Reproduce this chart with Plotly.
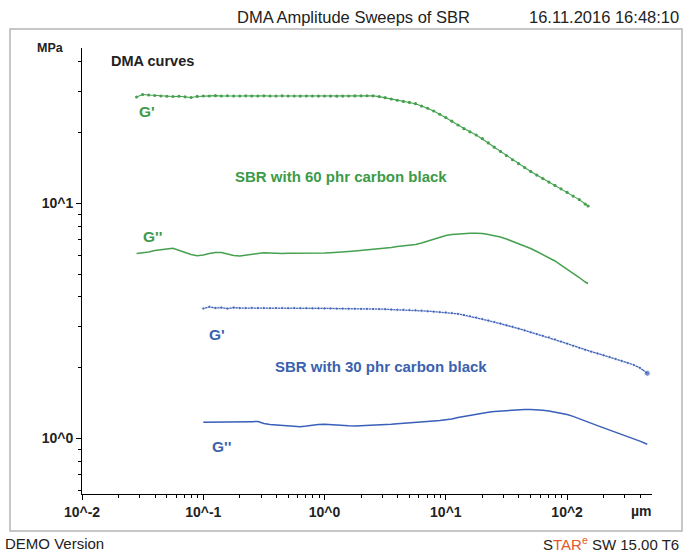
import plotly.graph_objects as go

# ---------------- data ----------------
green_strain = [0.0282, 0.0316, 0.0355, 0.0398, 0.0447, 0.0501, 0.0562, 0.0631, 0.0708, 0.0794,
                0.0891, 0.100, 0.112, 0.126, 0.141, 0.158, 0.178, 0.200, 0.224, 0.251,
                0.282, 0.316, 0.355, 0.398, 0.447, 0.501, 0.562, 0.631, 0.708, 0.794,
                0.891, 1.00, 1.12, 1.26, 1.41, 1.58, 1.78, 2.00, 2.24, 2.51,
                2.82, 3.16, 3.55, 3.98, 4.47, 5.01, 5.62, 6.31, 7.08, 7.94,
                8.91, 10.0, 11.2, 12.6, 14.1, 15.8, 17.8, 20.0, 22.4, 25.1,
                28.2, 31.6, 35.5, 39.8, 44.7, 50.1, 56.2, 63.1, 70.8, 79.4,
                89.1, 100, 112, 126, 141, 149]

green_Gp = [28.34, 29.05, 28.90, 28.76, 28.62, 28.55, 28.48, 28.55, 28.40, 28.20,
            28.50, 28.62, 28.62, 28.72, 28.62, 28.70, 28.62, 28.62, 28.68, 28.62,
            28.62, 28.66, 28.62, 28.62, 28.66, 28.62, 28.62, 28.60, 28.62, 28.62,
            28.60, 28.62, 28.60, 28.58, 28.60, 28.62, 28.64, 28.66, 28.70, 28.68,
            28.45, 28.15, 27.80, 27.45, 27.15, 26.88, 26.54, 25.94, 25.39, 24.71,
            23.94, 23.18, 22.36, 21.54, 20.79, 20.15, 19.53, 18.85, 18.07, 17.33,
            16.63, 15.97, 15.33, 14.75, 14.20, 13.67, 13.19, 12.75, 12.32, 11.92,
            11.53, 11.13, 10.74, 10.37, 9.93, 9.74]

green_Gpp = [6.115, 6.145, 6.206, 6.297, 6.360, 6.391, 6.435, 6.297, 6.175, 6.055,
             5.984, 6.026, 6.115, 6.175, 6.175, 6.085, 5.996, 5.967, 6.026, 6.085,
             6.145, 6.164, 6.145, 6.115, 6.115, 6.127, 6.127, 6.115, 6.115, 6.127,
             6.127, 6.145, 6.164, 6.175, 6.206, 6.236, 6.266, 6.297, 6.328, 6.360,
             6.391, 6.423, 6.486, 6.549, 6.582, 6.614, 6.679, 6.778, 6.912, 7.049,
             7.189, 7.295, 7.366, 7.403, 7.439, 7.453, 7.453, 7.439, 7.366, 7.295,
             7.189, 7.049, 6.891, 6.744, 6.582, 6.423, 6.236, 6.055, 5.881, 5.683,
             5.463, 5.253, 5.051, 4.834, 4.625, 4.557]

blue_strain = [0.100, 0.112, 0.126, 0.141, 0.158, 0.178, 0.200, 0.224, 0.251, 0.282,
               0.316, 0.355, 0.398, 0.447, 0.501, 0.562, 0.631, 0.708, 0.794, 0.891,
               1.00, 1.12, 1.26, 1.41, 1.58, 1.78, 2.00, 2.24, 2.51, 2.82,
               3.16, 3.55, 3.98, 4.47, 5.01, 5.62, 6.31, 7.08, 7.94, 8.91,
               10.0, 11.2, 12.6, 14.1, 15.8, 17.8, 20.0, 22.4, 25.1, 28.2,
               31.6, 35.5, 39.8, 44.7, 50.1, 56.2, 63.1, 70.8, 79.4, 89.1,
               100, 112, 126, 141, 158, 178, 200, 224, 251, 282,
               316, 355, 398, 458]

blue_Gp = [3.567, 3.627, 3.585, 3.602, 3.567, 3.602, 3.585, 3.585, 3.592, 3.585,
           3.585, 3.580, 3.585, 3.585, 3.580, 3.585, 3.580, 3.580, 3.575, 3.575,
           3.570, 3.570, 3.565, 3.565, 3.560, 3.560, 3.555, 3.555, 3.550, 3.547,
           3.543, 3.532, 3.525, 3.522, 3.516, 3.509, 3.491, 3.474, 3.457, 3.443,
           3.433, 3.413, 3.386, 3.346, 3.307, 3.266, 3.218, 3.171, 3.125, 3.080,
           3.029, 2.982, 2.930, 2.879, 2.828, 2.779, 2.731, 2.691, 2.636, 2.582,
           2.529, 2.477, 2.425, 2.380, 2.338, 2.297, 2.257, 2.218, 2.177, 2.135,
           2.094, 2.051, 1.995, 1.891]

blue_Gpp = [1.170, 1.170, 1.170, 1.170, 1.171, 1.171, 1.173, 1.173, 1.177, 1.179,
            1.156, 1.145, 1.139, 1.134, 1.128, 1.123, 1.121, 1.128, 1.139, 1.145,
            1.147, 1.141, 1.136, 1.132, 1.130, 1.128, 1.130, 1.134, 1.137, 1.139,
            1.144, 1.148, 1.153, 1.157, 1.162, 1.167, 1.175, 1.179, 1.185, 1.190,
            1.196, 1.208, 1.226, 1.240, 1.256, 1.269, 1.281, 1.291, 1.300, 1.307,
            1.313, 1.320, 1.325, 1.327, 1.327, 1.325, 1.317, 1.307, 1.294, 1.281,
            1.263, 1.240, 1.210, 1.185, 1.158, 1.132, 1.108, 1.085, 1.062, 1.039,
            1.017, 0.995, 0.973, 0.943]

x_tick_vals = [0.01, 0.1, 1, 10, 100]
x_tick_text = ["10^-2", "10^-1", "10^0", "10^1", "10^2"]
y_tick_vals = [1, 10]
y_tick_text = ["10^0", "10^1"]

# ---------------- style ----------------
GREEN_LINE = "#45a04f"
GREEN_TEXT = "#3c9a48"
BLUE_LINE = "#3a5fb8"
BLUE_TEXT = "#3a62ae"
FONT = "Liberation Sans, Arial, sans-serif"

fig = go.Figure()

fig.add_trace(go.Scatter(x=green_strain, y=green_Gp, mode="lines+markers",
                         line=dict(color=GREEN_LINE, width=1.1),
                         marker=dict(color=GREEN_LINE, size=3.2), hoverinfo="skip"))
fig.add_trace(go.Scatter(x=green_strain, y=green_Gpp, mode="lines",
                         line=dict(color=GREEN_LINE, width=1.5), hoverinfo="skip"))
blue_sizes = [3.4] * (len(blue_Gp) - 1) + [6]
fig.add_trace(go.Scatter(x=blue_strain, y=blue_Gp, mode="lines+markers",
                         line=dict(color=BLUE_LINE, width=1.3),
                         marker=dict(color=BLUE_LINE, size=blue_sizes), hoverinfo="skip"))
fig.add_trace(go.Scatter(x=blue_strain, y=blue_Gpp, mode="lines",
                         line=dict(color=BLUE_LINE, width=1.5), hoverinfo="skip"))

x_minor = [m * 10.0 ** e for e in range(-2, 2) for m in range(2, 10)] + [200, 300, 400]
y_minor = [0.6, 0.7, 0.8, 0.9] + [m for m in range(2, 10)] + [20, 30, 40]

L, R, T, B = 82, 32, 48, 58
W, H = 684, 552
pw, ph = W - L - R, H - T - B


def px(xp):
    return (xp - L) / pw


def py(yp):
    return (H - B - yp) / ph


tick_font = dict(family=FONT, size=14, color="#222", weight="bold")

fig.update_layout(
    width=W, height=H,
    margin=dict(l=L, r=R, t=T, b=B),
    paper_bgcolor="white", plot_bgcolor="rgba(0,0,0,0)",
    showlegend=False,
    font=dict(family=FONT, color="#222"),
    xaxis=dict(type="log", range=[-2, 2.7], showgrid=False, zeroline=False,
               showline=True, linecolor="black", linewidth=1,
               tickmode="array", tickvals=x_tick_vals, ticktext=x_tick_text,
               ticks="outside", ticklen=5, tickcolor="black", tickwidth=1,
               tickfont=tick_font,
               minor=dict(tickmode="array", tickvals=x_minor, ticks="outside",
                          ticklen=3, tickcolor="black", tickwidth=1, showgrid=False)),
    yaxis=dict(type="log", range=[-0.237, 1.661], showgrid=False, zeroline=False,
               showline=True, linecolor="black", linewidth=1,
               tickmode="array", tickvals=y_tick_vals, ticktext=y_tick_text,
               ticks="outside", ticklen=5, tickcolor="black", tickwidth=1,
               tickfont=tick_font,
               minor=dict(tickmode="array", tickvals=y_minor, ticks="outside",
                          ticklen=3, tickcolor="black", tickwidth=1, showgrid=False)),
)

# outer frame
fig.add_shape(type="rect", xref="paper", yref="paper",
              x0=px(10), x1=px(682), y0=py(531), y1=py(29),
              line=dict(color="#b5b5b5", width=1.5), layer="above")

ann = []


def add(text, x, y, xa="left", size=14, color="#222", bold=False):
    t = f"<b>{text}</b>" if bold else text
    ann.append(dict(text=t, x=px(x), y=py(y), xref="paper", yref="paper",
                    xanchor=xa, yanchor="middle", showarrow=False,
                    font=dict(family=FONT, size=size, color=color)))


add("DMA Amplitude Sweeps of SBR", 353, 17, xa="center", size=16.5)
add("16.11.2016 16:48:10", 681, 17, xa="right", size=16.5)
add("MPa", 50, 48, xa="center", size=12.5, bold=True)
add("DMA curves", 109, 61, size=14.5, bold=True)
add("µm", 641, 511, xa="center", size=14, bold=True)
add("DEMO Version", 3, 543, size=15)
add("S<span style='color:#e2582c'>TAR</span><sup><span style='color:#e2582c'>e</span></sup> SW 15.00 T6",
    681, 543, xa="right", size=15)

add("G'", 137, 112, size=15.5, color=GREEN_TEXT, bold=True)
add("SBR with 60 phr carbon black", 341, 176, xa="center", size=15, color=GREEN_TEXT, bold=True)
add("G''", 141, 236, size=15.5, color=GREEN_TEXT, bold=True)
add("G'", 207, 334, size=15.5, color=BLUE_TEXT, bold=True)
add("SBR with 30 phr carbon black", 381, 366, xa="center", size=15, color=BLUE_TEXT, bold=True)
add("G''", 210, 446, size=15.5, color=BLUE_TEXT, bold=True)

fig.update_layout(annotations=ann)

fig.write_html("out.html", config={"displayModeBar": False},
               post_script="document.body.style.margin='0';document.body.style.overflow='hidden';")
